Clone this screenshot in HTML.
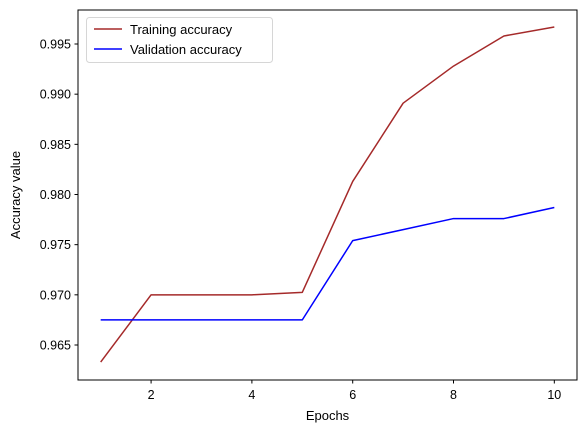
<!DOCTYPE html>
<html><head><meta charset="utf-8"><style>
body{margin:0;background:#fff;}
svg{display:block;font-family:"Liberation Sans","DejaVu Sans",sans-serif;}
</style></head><body>
<svg id="chart" width="584" height="432" viewBox="0 0 584 432">
<rect x="0" y="0" width="584" height="432" fill="#fff"/>
<g id="grid"></g>
<g id="series"></g>
<rect x="78" y="10" width="499" height="370" fill="none" stroke="#000" stroke-width="1"/>
<g id="xticks"></g>
<g id="yticks"></g>
<text x="327.5" y="420" text-anchor="middle" font-size="13">Epochs</text>
<text transform="translate(20,195) rotate(-90)" text-anchor="middle" font-size="13">Accuracy value</text>
<g>
<rect x="86.5" y="17.5" width="186" height="45" rx="3" fill="#fff" stroke="#ccc" stroke-opacity="0.8"/>
<g>
<line x1="94" y1="29" x2="122" y2="29" stroke="#a52a2a" stroke-width="1.5"/>
<text x="130" y="34" font-size="13">Training accuracy</text>
</g>
<g>
<line x1="94" y1="49" x2="122" y2="49" stroke="#0000ff" stroke-width="1.5"/>
<text x="130" y="54" font-size="13">Validation accuracy</text>
</g>
</g>
</svg>
<script>
const epochs=[1,2,3,4,5,6,7,8,9,10];
const training=[0.9633,0.9700,0.9700,0.9700,0.97025,0.9813,0.9891,0.9928,0.9958,0.9967];
const validation=[0.9675,0.9675,0.9675,0.9675,0.9675,0.9754,0.9765,0.9776,0.9776,0.9787];
const xTicks=[2,4,6,8,10];
const yTicks=[0.965,0.970,0.975,0.980,0.985,0.990,0.995];
const NS="http://www.w3.org/2000/svg";
const X0=78,X1=577,Y0=380,Y1=10,xmin=0.55,xmax=10.45,ymin=0.96151,ymax=0.99839;
function sx(v){return X0+(v-xmin)/(xmax-xmin)*(X1-X0);}
function sy(v){return Y0-(v-ymin)/(ymax-ymin)*(Y0-Y1);}
function mk(t,a,p){const e=document.createElementNS(NS,t);for(const k in a)e.setAttribute(k,a[k]);p.appendChild(e);return e;}
const xt=document.getElementById('xticks'),yt=document.getElementById('yticks'),sg=document.getElementById('series');
xTicks.forEach(v=>{
 const g=mk('g',{},xt);
 
 
 mk('line',{x1:sx(v),x2:sx(v),y1:380,y2:383.5,stroke:'#000'},g);
 const t=mk('text',{x:sx(v),y:399,'text-anchor':'middle','font-size':'12.5'},g);t.textContent=v;
});
yTicks.forEach(v=>{
 const g=mk('g',{},yt);
 
 
 mk('line',{x1:74.5,x2:78,y1:sy(v),y2:sy(v),stroke:'#000'},g);
 const t=mk('text',{x:71,y:sy(v)+4.5,'text-anchor':'end','font-size':'12.5'},g);t.textContent=v.toFixed(3);
});
function line(vals,color,name){
 const p=mk('polyline',{points:vals.map((v,i)=>sx(epochs[i])+','+sy(v)).join(' '),fill:'none',stroke:color,'stroke-width':1.5,'stroke-linejoin':'round'},sg);
 
 
}
line(training,'#a52a2a','training-accuracy-line');
line(validation,'#0000ff','validation-accuracy-line');
</script>
</body></html>
